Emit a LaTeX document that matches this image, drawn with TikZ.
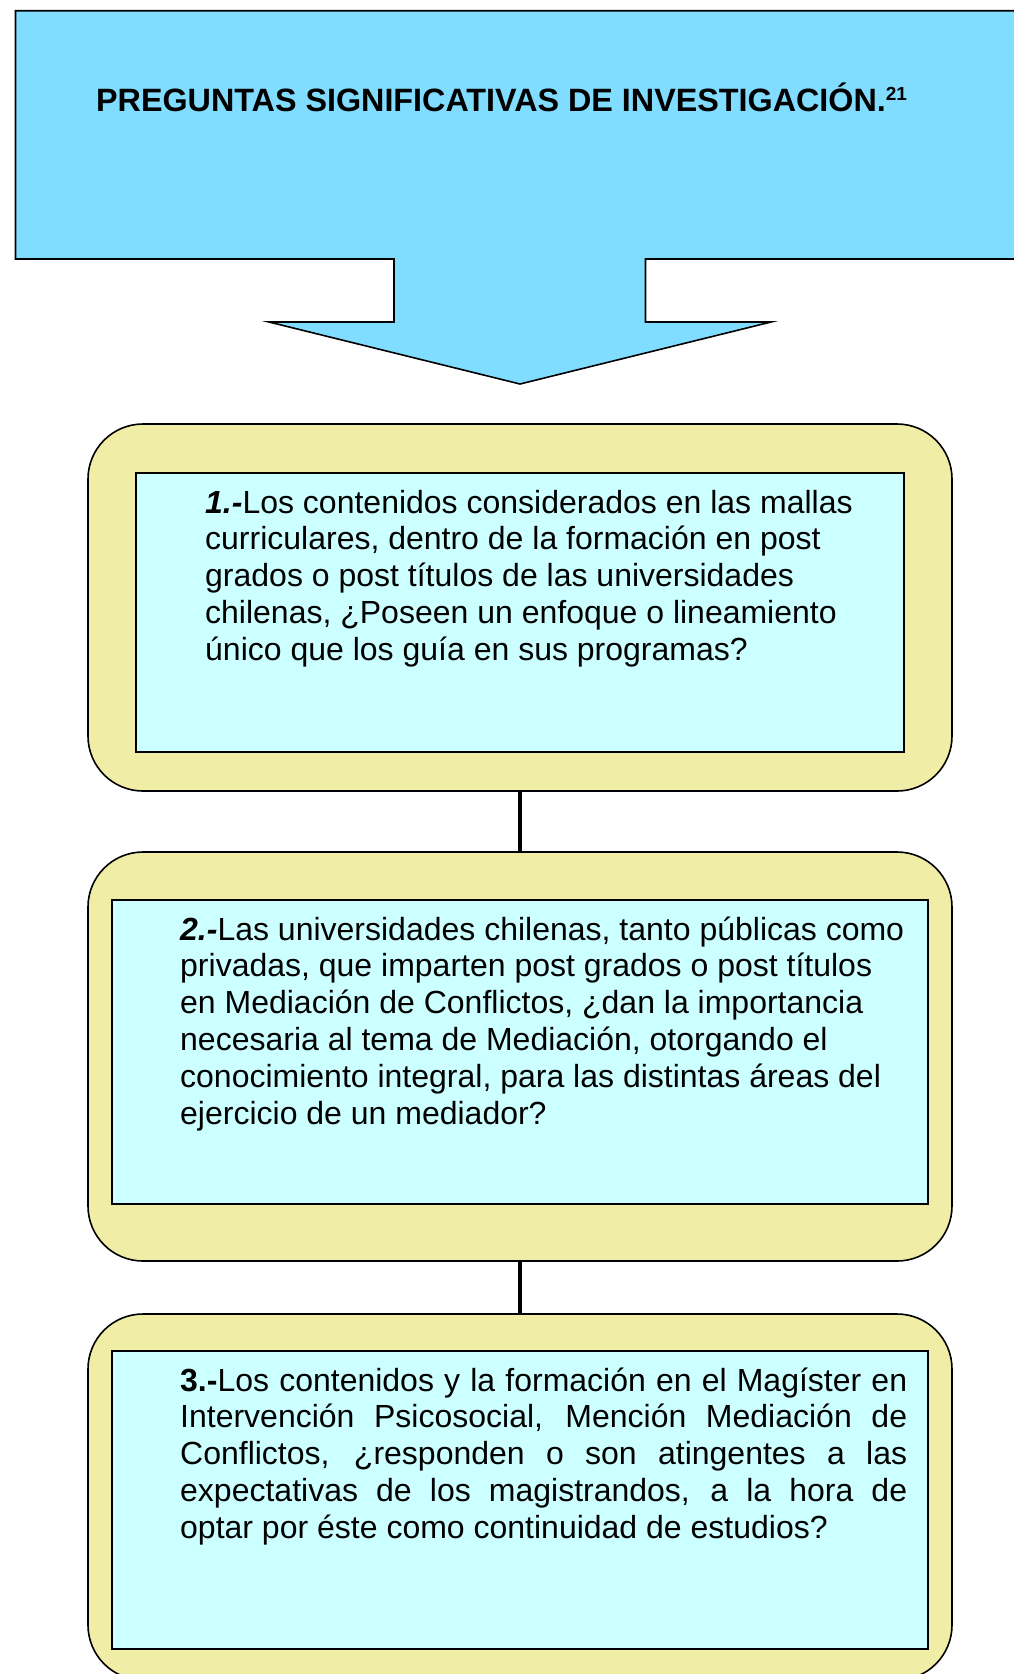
\documentclass[tikz,border=0pt]{standalone}
\usepackage{fontspec}
\setmainfont[Ligatures={TeX,NoCommon}]{Liberation Sans}
\definecolor{calloutblue}{HTML}{80DDFF}
\definecolor{boxyellow}{HTML}{F0EEA6}
\definecolor{boxcyan}{HTML}{CCFFFF}
\tikzset{
  outerbox/.style={draw=black, line width=1.6pt, fill=boxyellow, rounded corners=55pt, minimum width=864pt, inner sep=0pt},
  innerbox/.style={draw=black, line width=2pt, fill=boxcyan, inner sep=0pt},
  conn/.style={draw=black, line width=4.5pt},
  qtext/.style={anchor=base west, inner sep=0pt},
  callout/.style={draw=black, line width=1.6pt, fill=calloutblue, line join=miter}
}
\newcommand{\qfont}{\fontsize{32}{36.8}\selectfont}
\begin{document}
\begin{tikzpicture}[x=1pt,y=-1pt]
\useasboundingbox (0,0) rectangle (1014,1674);
\clip (0,0) rectangle (1014,1674);
% callout
\draw[callout] (15.5,10.7) -- (1030,10.7) -- (1030,259) -- (645.5,259) -- (645.5,322) -- (771,322) -- (520,384) -- (269,322) -- (394,322) -- (394,259) -- (15.5,259) -- cycle;
\node[qtext] (title) at (96,111) {\fontsize{32.3}{36}\selectfont\bfseries PREGUNTAS SIGNIFICATIVAS DE INVESTIGACIÓN.\raisebox{11pt}{\fontsize{19}{19}\selectfont 21}};
% boxes
\node[outerbox, minimum height=367pt] (b1) at (520,607.5) {};
\node[innerbox, minimum width=768pt, minimum height=279pt] (i1) at (520,612.5) {};
\node[outerbox, minimum height=409pt] (b2) at (520,1056.5) {};
\node[innerbox, minimum width=816pt, minimum height=304pt] (i2) at (520,1052) {};
\node[outerbox, minimum height=366pt] (b3) at (520,1497) {};
\node[innerbox, minimum width=816pt, minimum height=298pt] (i3) at (520,1500) {};
% connectors
\draw[conn] (b1.south) -- (b2.north);
\draw[conn] (b2.south) -- (b3.north);
% texts
\node[qtext] (t1) at (205,513) {\parbox[t]{700pt}{\qfont
\textbf{\textit{1.-}}Los contenidos considerados en las mallas\\
curriculares, dentro de la formación en post\\
grados o post títulos de las universidades\\
chilenas, ¿Poseen un enfoque o lineamiento\\
único que los guía en sus programas?}};
\node[qtext] (t2) at (180,940) {\parbox[t]{740pt}{\qfont
\textbf{\textit{2.-}}Las universidades chilenas, tanto públicas como\\
privadas, que imparten post grados o post títulos\\
en Mediación de Conflictos, ¿dan la importancia\\
necesaria al tema de Mediación, otorgando el\\
conocimiento integral, para las distintas áreas del\\
ejercicio de un mediador?}};
\node[qtext] (t3) at (180,1391) {\parbox[t]{727pt}{\qfont
\makebox[727pt][s]{\textbf{3.-}Los contenidos y la formación en el Magíster en}\\
\makebox[727pt][s]{Intervención Psicosocial, Mención Mediación de}\\
\makebox[727pt][s]{Conflictos, ¿responden o son atingentes a las}\\
\makebox[727pt][s]{expectativas de los magistrandos, a la hora de}\\
optar por éste como continuidad de estudios?}};
\end{tikzpicture}
\end{document}
